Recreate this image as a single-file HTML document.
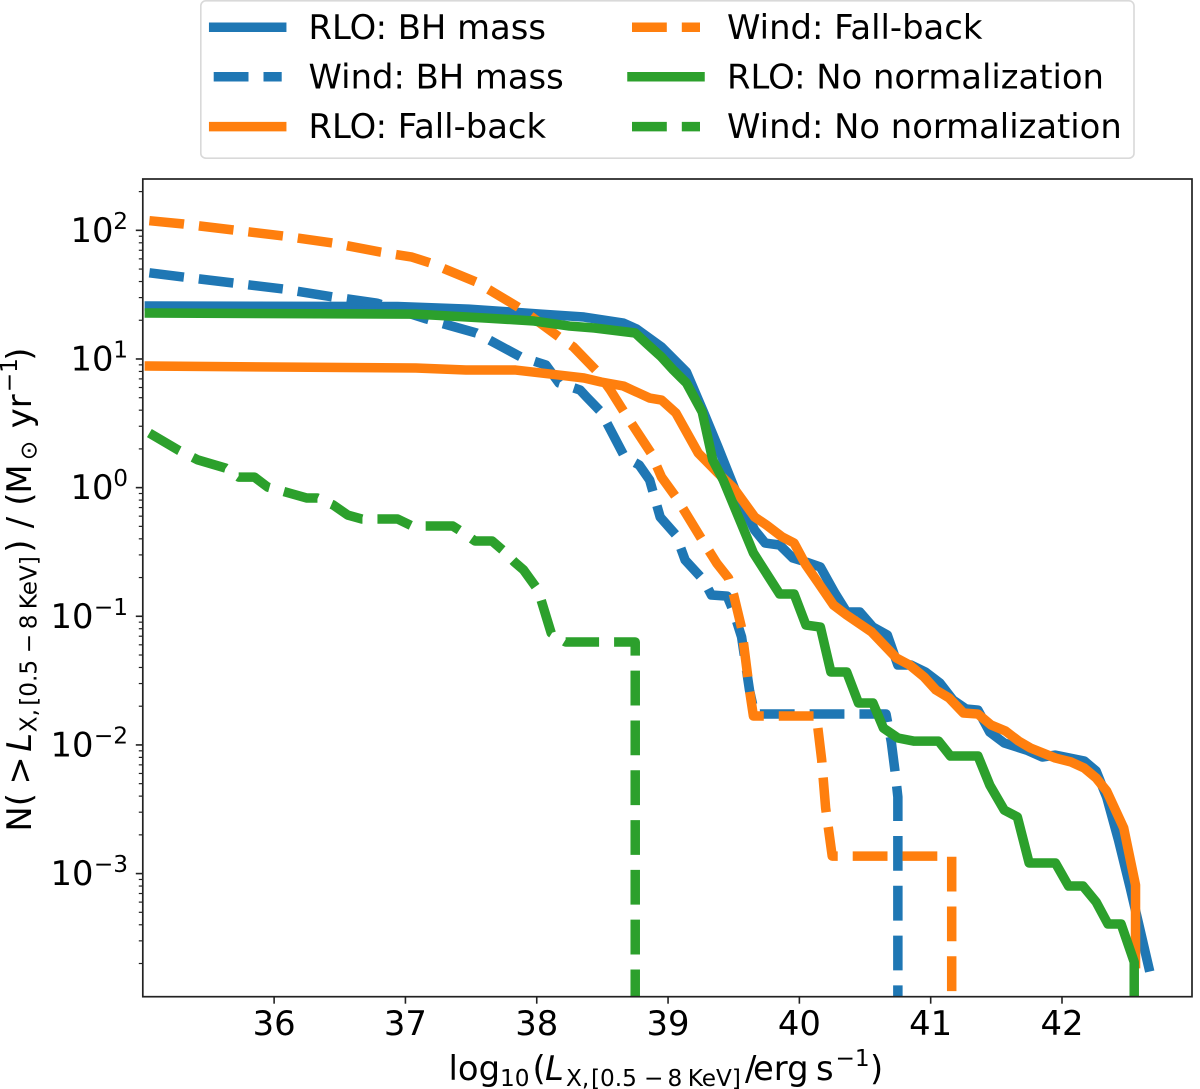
<!DOCTYPE html>
<html lang="en">
<head>
<meta charset="utf-8">
<title>Cumulative luminosity function</title>
<style>
html,body{margin:0;padding:0;background:#fff;}
#chart{display:block;width:1200px;height:1089px;font-family:"DejaVu Sans","Liberation Sans",sans-serif;fill:#000;}
#chart text{font-size:33.8px;}
#chart .small{font-size:23.2px;}
</style>
</head>
<body>
<svg id="chart" xmlns="http://www.w3.org/2000/svg" width="1200" height="1089" viewBox="0 0 1200 1089">
<defs><clipPath id="plot-clip"><rect x="142.8" y="179" width="1049.2" height="817.7"/></clipPath></defs>
<rect x="142.8" y="179" width="1049.2" height="817.7" fill="#fff"/>
<g id="series-layer" clip-path="url(#plot-clip)"></g>
<g id="tick-layer"></g>
<rect x="142.8" y="179" width="1049.2" height="817.7" fill="none" stroke="#222" stroke-width="1.7"/>

<text y="1080"><tspan x="448.5" y="1080">log</tspan><tspan class="small" x="500" y="1086">10</tspan><tspan x="532.5" y="1080">(</tspan><tspan x="545" y="1080" font-style="italic">L</tspan><tspan class="small" x="566" y="1086">X, </tspan><tspan class="small" x="591" y="1086">[0.5 </tspan><tspan class="small" x="644" y="1086">− </tspan><tspan class="small" x="667.5" y="1086">8 </tspan><tspan class="small" x="687.7" y="1086">KeV]</tspan><tspan x="745" y="1080">/</tspan><tspan x="753" y="1080">erg </tspan><tspan x="816" y="1080">s</tspan><tspan class="small" x="835.5" y="1066">−1</tspan><tspan x="870" y="1080">)</tspan></text>

<text transform="translate(31,828.3) rotate(-90)"><tspan x="-3.3" y="0">N</tspan><tspan x="22" y="0">( </tspan><tspan x="43.7" y="0">&gt; </tspan><tspan x="76.5" y="0" font-style="italic">L</tspan><tspan class="small" x="96" y="5.7">X, </tspan><tspan class="small" x="122.5" y="5.7">[0.5 </tspan><tspan class="small" x="175" y="5.7">− </tspan><tspan class="small" x="199" y="5.7">8 </tspan><tspan class="small" x="219" y="5.7">KeV]</tspan><tspan x="275.5" y="0">) </tspan><tspan x="300" y="0">/ </tspan><tspan x="322.5" y="0">(</tspan><tspan x="334.7" y="0">M</tspan><tspan class="small" x="368" y="5.7">⊙ </tspan><tspan x="400" y="0">yr</tspan><tspan class="small" x="436" y="-14">−1</tspan><tspan x="467.5" y="0">)</tspan></text>

<g>
<rect x="200.8" y="0.8" width="933.2" height="157.4" rx="5" ry="5" fill="#fff" stroke="#d9d9d9" stroke-width="1.6"/>
<g>
<line x1="213.7" x2="281.7" y1="27.3" y2="27.3" stroke="#1f77b4" stroke-width="9.5" stroke-linecap="square"/>
<text x="308.5" y="38.8">RLO: BH mass</text></g>
<g>
<line x1="213.7" x2="281.7" y1="76.8" y2="76.8" stroke="#1f77b4" stroke-width="9.5" stroke-dasharray="34.8 15"/>
<text x="308.5" y="88.3">Wind: BH mass</text></g>
<g>
<line x1="213.7" x2="281.7" y1="126.6" y2="126.6" stroke="#ff7f0e" stroke-width="9.5" stroke-linecap="square"/>
<text x="308.5" y="138">RLO: Fall-back</text></g>
<g>
<line x1="632" x2="700" y1="27.3" y2="27.3" stroke="#ff7f0e" stroke-width="9.5" stroke-dasharray="34.8 15"/>
<text x="727" y="38.8">Wind: Fall-back</text></g>
<g>
<line x1="632" x2="700" y1="76.8" y2="76.8" stroke="#2ca02c" stroke-width="9.5" stroke-linecap="square"/>
<text x="727" y="88.3">RLO: No normalization</text></g>
<g>
<line x1="632" x2="700" y1="126.6" y2="126.6" stroke="#2ca02c" stroke-width="9.5" stroke-dasharray="34.8 15"/>
<text x="727" y="138">Wind: No normalization</text></g>
</g>
</svg>
<script>
// x = log10(L_X), y = log10(N)
const xTickValues = [36, 37, 38, 39, 40, 41, 42];
const yDecades = [2, 1, 0, -1, -2, -3];
const yMinorFactors = [2, 3, 4, 5, 6, 7, 8, 9];

const rloBhX = [35.05,36.94,37.48,38.03,38.36,38.66,38.76,38.95,39.14,39.27,39.38,39.52,39.66,39.74,39.85,39.95,40.05,40.16,40.27,40.36,40.46,40.56,40.67,40.75,40.85,40.96,41.07,41.17,41.27,41.36,41.45,41.56,41.73,41.85,41.95,42.17,42.26,42.34,42.43,42.52,42.60,42.66];
const rloBhLogN = [1.412,1.408,1.388,1.349,1.326,1.279,1.233,1.093,0.899,0.588,0.316,-0.042,-0.330,-0.431,-0.446,-0.547,-0.578,-0.617,-0.819,-0.967,-0.967,-1.084,-1.146,-1.379,-1.379,-1.433,-1.519,-1.651,-1.721,-1.729,-1.900,-1.985,-2.040,-2.094,-2.079,-2.125,-2.203,-2.405,-2.739,-3.112,-3.462,-3.726];

const windBhX = [35.05,35.31,36.07,36.45,36.78,37.16,37.54,37.88,38.07,38.17,38.33,38.38,38.49,38.67,38.78,38.86,38.89,38.94,39.06,39.13,39.27,39.33,39.45,39.50,39.56,39.62,39.66,40.66,40.70,40.73,40.75,40.75];
const windBhLogN = [1.670,1.637,1.544,1.482,1.435,1.311,1.202,1.015,0.953,0.813,0.759,0.704,0.588,0.238,0.176,0.059,-0.050,-0.229,-0.368,-0.563,-0.718,-0.835,-0.843,-0.967,-1.161,-1.573,-1.760,-1.760,-1.977,-2.218,-2.405,-4.2];

const rloFallX = [35.05,37.08,37.46,37.84,38.17,38.36,38.49,38.66,38.76,38.86,38.95,39.06,39.23,39.38,39.50,39.66,39.75,39.87,39.96,40.05,40.14,40.26,40.36,40.55,40.74,40.84,40.95,41.04,41.14,41.25,41.36,41.46,41.57,41.67,41.76,41.95,42.07,42.17,42.26,42.34,42.47,42.56,42.56,42.56];
const rloFallLogN = [0.945,0.930,0.914,0.914,0.875,0.852,0.821,0.790,0.743,0.696,0.681,0.580,0.269,0.113,-0.003,-0.229,-0.291,-0.384,-0.431,-0.602,-0.734,-0.913,-0.990,-1.122,-1.325,-1.379,-1.472,-1.573,-1.635,-1.752,-1.760,-1.845,-1.892,-1.970,-2.024,-2.102,-2.133,-2.180,-2.257,-2.358,-2.646,-3.089,-3.462,-3.700];

const windFallX = [35.05,35.31,36.07,36.45,36.81,37.05,37.19,37.54,37.87,38.17,38.28,38.45,38.56,38.67,38.87,38.95,39.06,39.26,39.37,39.46,39.50,39.56,39.62,39.65,40.13,40.17,40.20,40.25,41.16,41.16];
const windFallLogN = [2.075,2.049,1.956,1.901,1.831,1.792,1.746,1.598,1.396,1.171,1.093,0.914,0.759,0.580,0.269,0.082,-0.073,-0.407,-0.586,-0.703,-0.835,-1.091,-1.573,-1.775,-1.775,-2.117,-2.490,-2.864,-2.864,-4.2];

const rloNoneX = [35.05,37.08,37.62,37.98,38.25,38.44,38.75,38.85,38.95,39.04,39.14,39.26,39.34,39.42,39.65,39.85,39.96,40.05,40.16,40.24,40.36,40.45,40.56,40.64,40.75,40.87,41.06,41.15,41.36,41.45,41.56,41.66,41.75,41.95,42.05,42.16,42.26,42.35,42.45,42.55,42.55];
const rloNoneLogN = [1.357,1.349,1.318,1.295,1.256,1.241,1.202,1.108,1.015,0.914,0.813,0.588,0.215,0.059,-0.508,-0.827,-0.827,-1.068,-1.084,-1.433,-1.433,-1.674,-1.674,-1.869,-1.946,-1.970,-1.970,-2.086,-2.086,-2.312,-2.506,-2.560,-2.918,-2.918,-3.097,-3.097,-3.221,-3.392,-3.392,-3.688,-4.2];

const windNoneX = [35.05,35.27,35.42,35.63,35.73,35.85,35.95,36.25,36.33,36.45,36.56,36.67,36.94,37.05,37.36,37.42,37.53,37.66,37.74,37.83,37.90,38.01,38.11,38.22,38.75,38.75];
const windNoneLogN = [0.424,0.292,0.215,0.152,0.082,0.082,0.005,-0.081,-0.081,-0.135,-0.213,-0.244,-0.244,-0.298,-0.298,-0.337,-0.415,-0.415,-0.485,-0.578,-0.640,-0.796,-1.130,-1.200,-1.200,-4.2];

const plotLeft = 142.8, plotRight = 1192, plotTop = 179, plotBottom = 996.7;
const xMin = 35, xMax = 42.99, yLogMin = -3.957, yLogMax = 2.399;
function xScale(v) { return plotLeft + (v - xMin) / (xMax - xMin) * (plotRight - plotLeft); }
function yScale(v) { return plotBottom - (v - yLogMin) / (yLogMax - yLogMin) * (plotBottom - plotTop); }

const SVG_NS = 'http://www.w3.org/2000/svg';
const seriesLayer = document.getElementById('series-layer');
const tickLayer = document.getElementById('tick-layer');

function drawSeries(name, xs, ys, color, dashed) {
  const path = document.createElementNS(SVG_NS, 'path');
  
  
  path.setAttribute('d', xs.map(function (x, i) {
    return (i ? 'L' : 'M') + xScale(x).toFixed(2) + ' ' + yScale(ys[i]).toFixed(2);
  }).join(''));
  path.setAttribute('fill', 'none');
  path.setAttribute('stroke', color);
  path.setAttribute('stroke-width', '9.5');
  path.setAttribute('stroke-linejoin', 'round');
  if (dashed) {
    path.setAttribute('stroke-dasharray', '34.8 15');
    path.setAttribute('stroke-linecap', 'butt');
  } else {
    path.setAttribute('stroke-linecap', 'square');
  }
  seriesLayer.appendChild(path);
}

drawSeries('series-rlo-bh-mass', rloBhX, rloBhLogN, '#1f77b4', false);
drawSeries('series-wind-bh-mass', windBhX, windBhLogN, '#1f77b4', true);
drawSeries('series-rlo-fall-back', rloFallX, rloFallLogN, '#ff7f0e', false);
drawSeries('series-wind-fall-back', windFallX, windFallLogN, '#ff7f0e', true);
drawSeries('series-rlo-no-normalization', rloNoneX, rloNoneLogN, '#2ca02c', false);
drawSeries('series-wind-no-normalization', windNoneX, windNoneLogN, '#2ca02c', true);

function addTick(name, x1, y1, x2, y2, width) {
  const tick = document.createElementNS(SVG_NS, 'line');
  
  
  tick.setAttribute('x1', x1);
  tick.setAttribute('y1', y1);
  tick.setAttribute('x2', x2);
  tick.setAttribute('y2', y2);
  tick.setAttribute('stroke', '#222');
  tick.setAttribute('stroke-width', width);
  tickLayer.appendChild(tick);
}

xTickValues.forEach(function (v) {
  const px = xScale(v);
  addTick('x-tick', px, plotBottom, px, plotBottom + 7, 1.6);
  const label = document.createElementNS(SVG_NS, 'text');
  
  
  label.setAttribute('x', px);
  label.setAttribute('y', 1035);
  label.setAttribute('text-anchor', 'middle');
  label.textContent = String(v);
  tickLayer.appendChild(label);
});

yDecades.forEach(function (d) {
  const py = yScale(d);
  addTick('y-tick-major', plotLeft - 7, py, plotLeft, py, 1.6);
  const base = document.createElementNS(SVG_NS, 'text');
  
  
  base.setAttribute('x', d < 0 ? 93.5 : 113.5);
  base.setAttribute('y', py + 11.5);
  base.setAttribute('text-anchor', 'end');
  base.textContent = '10';
  tickLayer.appendChild(base);
  const exponent = document.createElementNS(SVG_NS, 'text');
  
  
  exponent.setAttribute('class', 'small');
  exponent.setAttribute('x', 128);
  exponent.setAttribute('y', py - 1.5);
  exponent.setAttribute('text-anchor', 'end');
  exponent.textContent = String(d).replace('-', '\u2212');
  tickLayer.appendChild(exponent);
});

[3, 2, 1, 0, -1, -2, -3, -4].forEach(function (d) {
  yMinorFactors.forEach(function (f) {
    const v = d + Math.log10(f);
    if (v > yLogMin && v < yLogMax) {
      const py = yScale(v);
      addTick('y-tick-minor', plotLeft - 4, py, plotLeft, py, 1.2);
    }
  });
});
</script>
</body>
</html>
